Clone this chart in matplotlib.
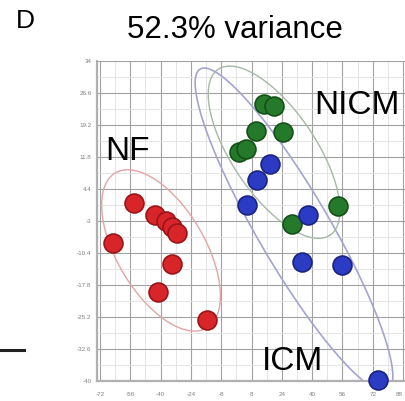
import matplotlib
matplotlib.use("Agg")
import matplotlib.pyplot as plt
import numpy as np
from matplotlib.lines import Line2D

# ---- data ----
nf_x = [-65.1, -54.0, -43.0, -37.2, -34.0, -31.3, -34.0, -41.4, -15.5]
nf_y = [-8.0, 1.1, -1.7, -2.9, -4.5, -5.7, -12.9, -19.4, -25.9]
nicm_x = [14.6, 19.9, 10.4, 24.6, 1.4, 5.1, 53.7, 29.4]
nicm_y = [24.0, 23.6, 17.8, 17.5, 12.9, 13.6, 0.4, -3.8]
icm_x = [17.8, 10.9, 5.6, 37.8, 34.7, 55.8, 74.8]
icm_y = [10.1, 6.4, 0.8, -1.5, -12.4, -13.1, -39.8]

x_ticks = [-72, -56, -40, -24, -8, 8, 24, 40, 56, 72, 88]
y_ticks = [34, 26.6, 19.2, 11.8, 4.4, -3, -10.4, -17.8, -25.2, -32.6, -40]

# ellipse centres (data units)
ell_centers = {"NF": (-39.8, -9.8), "NICM": (19.9, 12.9), "ICM": (30.4, -5.0)}

plt.rcParams['font.family'] = ['Liberation Sans', 'DejaVu Sans']

W, H = 405, 401
fig = plt.figure(figsize=(W / 100, H / 100), dpi=100)
fig.patch.set_facecolor('white')

L, R, T, B = 97, 405, 61, 381
ax = fig.add_axes([L / W, (H - B) / H, (R - L) / W, (B - T) / H])
xmin, xmax = -73.6, 89.0
ymin, ymax = -40, 34
ax.set_xlim(xmin, xmax)
ax.set_ylim(ymin, ymax)

ax.set_xticks(x_ticks)
ax.set_xticklabels([str(v) for v in x_ticks])
ax.set_yticks(y_ticks)
ax.set_yticklabels([("%g" % v) for v in y_ticks])
ax.set_xticks(np.array(x_ticks[:-1]) + 8, minor=True)
ax.set_yticks(np.array(y_ticks[1:]) + 3.7, minor=True)
ax.tick_params(which='both', length=0)
ax.tick_params(axis='x', labelsize=4.5, labelcolor='#808080', pad=8)
ax.tick_params(axis='y', labelsize=4.5, labelcolor='#808080', pad=4)
ax.get_xticklabels()[-1].set_ha('right')
ax.grid(True, which='major', color='#a2a2a2', lw=0.8)
ax.grid(True, which='minor', color='#e0e0e0', lw=0.6)
ax.set_axisbelow(True)
for s in ['top', 'right']:
    ax.spines[s].set_visible(False)
for s in ['left', 'bottom']:
    ax.spines[s].set_color('#b0b0b0')
    ax.spines[s].set_linewidth(1.6)

# pixel scale for ellipses
sx = (R - L) / (xmax - xmin)
sy = (B - T) / (ymax - ymin)

def draw_ellipse(center, a_px, b_px, ang_deg, color, lw):
    t = np.linspace(0, 2 * np.pi, 300)
    th = np.deg2rad(ang_deg)
    px = a_px * np.cos(t) * np.cos(th) - b_px * np.sin(t) * np.sin(th)
    py = a_px * np.cos(t) * np.sin(th) + b_px * np.sin(t) * np.cos(th)
    ax.plot(center[0] + px / sx, center[1] - py / sy, color=color, lw=lw, zorder=2)

draw_ellipse(ell_centers["NF"], 90, 44, 59.5, '#e6a4a4', 1.0)
draw_ellipse(ell_centers["NICM"], 100, 42, 56, '#a6b9a6', 1.0)
draw_ellipse(ell_centers["ICM"], 186, 36, 59.7, '#a4a4d2', 1.2)

ax.scatter(nf_x, nf_y, s=185, c='#d7252a', edgecolors='#9a1418', linewidths=1.2, zorder=3, clip_on=False)
ax.scatter(nicm_x, nicm_y, s=185, c='#24792a', edgecolors='#145018', linewidths=1.2, zorder=3, clip_on=False)
ax.scatter(icm_x, icm_y, s=185, c='#2b3bc4', edgecolors='#1a237e', linewidths=1.2, zorder=3, clip_on=False)

def ftext(x, y, s, size):
    fig.text(x / W, 1 - y / H, s, fontsize=size, ha='left', va='baseline', color='black')

ftext(105, 160, "NF", 24)
ftext(314, 114, "NICM", 24)
ftext(262, 370, "ICM", 24)
ftext(16, 28, "D", 19)
ftext(127, 38, "52.3% variance", 22.5)

fig.add_artist(Line2D([0, 24 / W], [1 - 350 / H, 1 - 350 / H], color='#222222', lw=2.2,
                      transform=fig.transFigure))

fig.savefig("out.png", dpi=100)
